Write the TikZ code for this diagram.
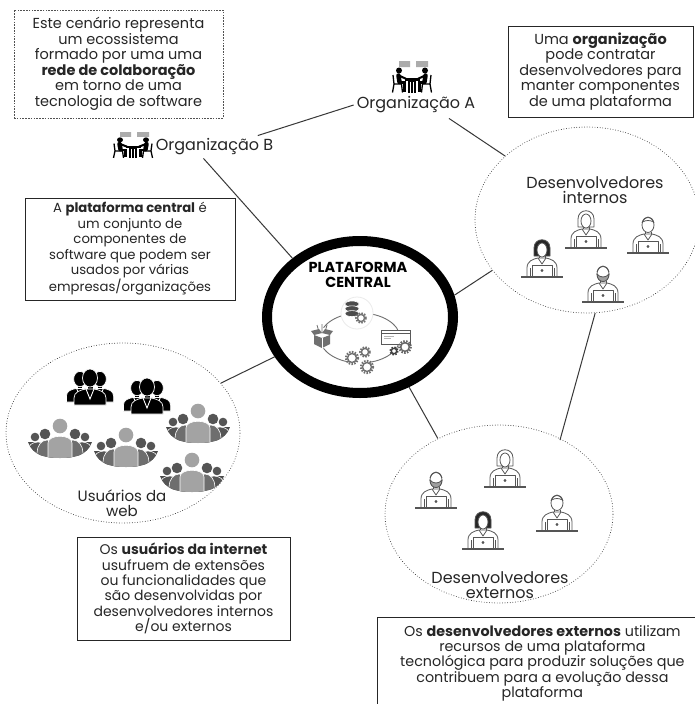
\documentclass[tikz,border=0pt]{standalone}
\usepackage{fontspec}
\setmainfont{Poppins}
\usetikzlibrary{shapes.geometric,calc}

\definecolor{ink}{HTML}{262626}
\definecolor{wire}{HTML}{383838}
\definecolor{devgrey}{HTML}{555555}
\definecolor{cone}{HTML}{A3A3A3}
\definecolor{ctwo}{HTML}{6E6E6E}
\definecolor{cthree}{HTML}{555555}
\definecolor{cfour}{HTML}{4A4A4A}
\definecolor{icong}{HTML}{707070}

% --- developer at a laptop (origin: middle of the desk line) ---
\newcommand\devtorso{%
  \draw[devline] (-15,0) -- (-15,-9) .. controls (-15,-16) and (-9,-18) .. (-4,-19)
        -- (4,-19) .. controls (9,-18) and (15,-16) .. (15,-9) -- (15,0);
  \draw[devline] (-4,-19) -- (0,-13) -- (4,-19);
  \draw[devline] (-3,-19) -- (-3,-21) (3,-19) -- (3,-21);
  \draw[devline] (-12,-1) -- (-12,-9) (12,-1) -- (12,-9);
  \filldraw[devline, fill=white] (-10,-12) rectangle (10,-1);
  \draw[devline] (0,-6.5) circle (1);
  \draw[line width=1.8pt, devgrey] (-21,0) -- (21,0);}
\newcommand\devface{\filldraw[devline, fill=white] (0,-28) ellipse (6 and 7.5);}
\newcommand\longhair[1]{%
  \filldraw[devline, fill=#1] (-8,-21) -- (-8,-29) .. controls (-8,-40) and (8,-40) .. (8,-29)
        -- (8,-21) -- cycle;
  \filldraw[devline, fill=white] (0,-27) ellipse (5 and 7);}

% --- business person silhouette (origin: bottom middle) ---
\newcommand\bizfigure{%
  \fill[black] (-2.5,-21) rectangle (2.5,-14);
  \filldraw[black, draw=white, line width=0.7pt] (0,-27) ellipse (7.5 and 9);
  \filldraw[black, draw=white, line width=0.7pt] (-16,0) -- (-16,-7) .. controls (-16,-13) and (-10,-15) .. (-4,-16)
        -- (4,-16) .. controls (10,-15) and (16,-13) .. (16,-7) -- (16,0) -- cycle;
  \draw[white, line width=0.9pt] (-4,-16) -- (0,-6) -- (4,-16);}

\tikzset{
  devline/.style={draw=devgrey, line width=0.8pt, line join=round},
  note/.style={draw=ink, line width=0.8pt, align=center, text=ink, inner sep=0pt},
  dashnote/.style={note, draw=ink!80, line width=0.6pt, dash pattern=on 1.6pt off 1.2pt},
  crowdring/.style={ellipse, draw=ink, line width=0.9pt, line cap=round,
    dash pattern=on 0pt off 2.6pt, inner sep=0pt},
  label/.style={text=ink, align=center, font=\fontsize{16}{15.5}\selectfont},
  link/.style={draw=wire, line width=1pt},
  pics/devman/.style={code={\devtorso\devface
     \draw[devline] (-6,-30) .. controls (-4,-38) and (4,-38) .. (6,-30);
     \draw[devline] (-5.5,-31) .. controls (-2,-33) and (2,-33) .. (5.5,-31);}},
  pics/devwoman/.style={code={\devtorso\longhair{white}}},
  pics/devwomandark/.style={code={\devtorso\longhair{black!85}}},
  pics/devbeard/.style={code={\devtorso\devface
     \filldraw[devline, fill=gray!75] (-6,-28) .. controls (-6,-18) and (6,-18) .. (6,-28)
        .. controls (3,-24) and (-3,-24) .. cycle;
     \draw[devline] (-6,-30) .. controls (-4,-38) and (4,-38) .. (6,-30);}},
  pics/biz/.style={code={
     \begin{scope}[shift={(-10,-3)},scale=0.85]\bizfigure\end{scope}
     \begin{scope}[shift={(10,-3)},scale=0.85]\bizfigure\end{scope}
     \bizfigure}},
  pics/crowd/.style={code={
     \begin{scope}
       \clip (-32,-60) -- (32,-60) -- (32,-16) .. controls (27,-2) and (13,0) .. (0,0)
             .. controls (-13,0) and (-27,-2) .. (-32,-16) -- cycle;
       \fill[cfour] (-32,-16) rectangle (32,2);
       \filldraw[cthree, draw=white, line width=0.6pt] (-22,-8) ellipse (10 and 8) (22,-8) ellipse (10 and 8);
       \filldraw[ctwo, draw=white, line width=0.6pt] (-13,-5) ellipse (10 and 13) (13,-5) ellipse (10 and 13);
       \filldraw[cone, draw=white, line width=0.6pt] (-12,2) -- (-12,-15) .. controls (-12,-24) and (12,-24) .. (12,-15) -- (12,2) -- cycle;
     \end{scope}
     \fill[cthree] (-25,-21) circle (4.3) (25,-21) circle (4.3);
     \fill[cthree] (-15,-24) circle (5.3) (15,-24) circle (5.3);
     \fill[cone] (0,-32) circle (7.3);}},
  pics/meeting/.style={code={
     \fill[gray!65] (-13,-17) rectangle (-2,-11) (4,-17) rectangle (16,-11);
     \fill[black] (-13,-7.5) circle (3) (13,-7.5) circle (3);
     \foreach \s in {-1,1}{
       \begin{scope}[xscale=\s]
         \draw[black, line width=4.5pt, line cap=round] (-13.5,-2.5) -- (-12.5,4);
         \draw[black, line width=2pt, line cap=round] (-12,-2) -- (-6,0.8);
         \draw[black, line width=2.2pt] (-12.5,4.5) -- (-7.5,4.5) -- (-7.5,13.5);
         \draw[black, line width=1.3pt] (-19,-3) -- (-18,6) -- (-10,6) (-18,6) -- (-19.5,14.5) (-10.5,6) -- (-9.5,14.5);
       \end{scope}}
     \fill[black] (-7.5,0) rectangle (7.5,2.5);
     \fill[black] (-4,2.5) rectangle (4,14.5);
     \draw[white, line width=0.5pt] (-1.3,3.5) -- (-1.3,14.5) (1.3,3.5) -- (1.3,14.5);}},
  pics/gear/.style={code={
     \draw[draw=#1, line width=2.2pt, dash pattern=on 1.5pt off 1.3pt] (0,0) circle (4.8);
     \filldraw[draw=#1, fill=white, line width=1.4pt] (0,0) circle (3.6);}},
  pics/gear/.default=icong
}

\begin{document}
\begin{tikzpicture}[x=1pt, y=-1pt]
\useasboundingbox[fill=white] (0,0) rectangle (694,704);

% ---------- explanatory notes ----------
\node[dashnote, minimum width=209pt, minimum height=108pt, font=\fontsize{14.5}{15.5}\selectfont] (scenario) at (118.5,64)
  {Este cenário representa\\um ecossistema\\formado por uma uma\\\textbf{rede de colaboração}\\em torno de uma\\tecnologia de software};
\node[note, minimum width=185pt, minimum height=91pt, font=\fontsize{14.5}{15.5}\selectfont] (hire) at (600.5,71.5)
  {Uma \textbf{organização}\\pode contratar\\desenvolvedores para\\manter componentes\\de uma plataforma};
\node[note, minimum width=210pt, minimum height=102pt, font=\fontsize{13.2}{15.5}\selectfont] (platnote) at (130,249)
  {A \textbf{plataforma central} é\\um conjunto de\\componentes de\\software que podem ser\\usados por várias\\empresas/organizações};
\node[note, minimum width=213pt, minimum height=103pt, font=\fontsize{14}{15.3}\selectfont] (usernote) at (183.5,588.5)
  {Os \textbf{usuários da internet}\\usufruem de extensões\\ou funcionalidades que\\são desenvolvidas por\\desenvolvedores internos\\e/ou externos};
\node[note, anchor=north west, minimum width=330pt, minimum height=92pt, font=\fontsize{14.3}{15.3}\selectfont] (extnote) at (377,617)
  {Os \textbf{desenvolvedores externos} utilizam\\recursos de uma plataforma\\tecnológica para produzir soluções que\\contribuem para a evolução dessa\\plataforma};

% ---------- organisations ----------
\pic at (412,78) {meeting};
\node[label, inner sep=3pt] (orgA) at (416,105) {Organização A};
\pic[yscale=0.82] at (133,146) {meeting};
\node[label, inner sep=3pt] (orgB) at (214.5,147) {Organização B};

% ---------- central platform ----------
\node[ellipse, draw=black, line width=10pt, minimum width=186pt, minimum height=152pt] (plat) at (360,317) {};
\node[text=black, align=center, font=\bfseries\fontsize{14.5}{15}\selectfont] (plattitle) at (358,275) {PLATAFORMA\\CENTRAL};
% small cycle of software components
\draw[icong, line width=0.9pt] (360,338) ellipse (40 and 25);
\filldraw[draw=black!8, fill=white, line width=0.8pt] (357,313) circle (16);
\foreach \k in {0,1,2}
  \filldraw[fill=black!70, draw=white, line width=0.6pt] (352,{304+\k*4.8}) ellipse (7 and 3);
\pic at (361,318) {gear=black!55};
\fill[white] (320,338) circle (11);
\fill[icong] (314,335) -- (322,338) -- (330,335) -- (330,344) -- (322,348) -- (314,344) -- cycle;
\draw[white, line width=0.6pt] (322,338) -- (322,348);
\fill[icong] (314,335) -- (311,331) -- (319,329) -- (322,333) -- cycle (330,335) -- (333,331) -- (325,329) -- (322,333) -- cycle;
\draw[icong, line width=0.8pt] (322,333) -- (322,324) (319,332) -- (317,325) (325,332) -- (327,325);
\filldraw[draw=black!65, fill=white, line width=0.9pt] (381,330) rectangle (410,344);
\draw[black!65, line width=0.7pt] (381,333) -- (410,333);
\draw[black!30, line width=0.6pt] (384,336) -- (394,336) (384,338.5) -- (391,338.5);
\pic[scale=1.2] at (405,347) {gear=black!60};
\pic[scale=0.75] at (394,351) {gear=black!75};
\fill[white] (360,362) circle (11);
\pic[scale=1.25] at (352,358) {gear};
\pic at (365,352) {gear};
\pic[scale=1.25] at (367,367) {gear};

% ---------- internal developers ----------
\node[crowdring, minimum width=224pt, minimum height=186pt] (devint) at (587,220) {};
\node[label] (devintlabel) at (595,190) {Desenvolvedores\\internos};
\pic at (542,277) {devwomandark};
\pic at (586,248) {devwoman};
\pic at (648,253) {devman};
\pic at (603,302) {devbeard};

% ---------- external developers ----------
\node[crowdring, minimum width=228pt, minimum height=178pt] (devext) at (499,514) {};
\node[label] (devextlabel) at (500,585) {Desenvolvedores\\externos};
\pic at (436,508) {devbeard};
\pic at (505,487) {devwoman};
\pic at (483,549) {devwomandark};
\pic at (557,531) {devman};

% ---------- web users ----------
\node[crowdring, minimum width=234pt, minimum height=180pt] (users) at (123,433) {};
\node[label, font=\fontsize{15}{15.5}\selectfont] (userslabel) at (122,503) {Usuários da\\web};
\pic at (90,405) {biz};
\pic at (147,414) {biz};
\pic at (60,458) {crowd};
\pic at (126,467) {crowd};
\pic at (198,443) {crowd};
\pic at (192,492) {crowd};

% ---------- connectors ----------
\draw[link] (orgA.west) -- ($(orgB.north)!0.7!(orgB.north east)$);
\draw[link] ($(orgA.south)+(33,2)$) -- (devint.142);
\draw[link] ($(orgB.south)+(-11,0)$) -- (plat.139);
\draw[link] (plat.13) -- (devint.208);
\draw[link] (devint.275) -- ($(devext.center)+(61,-74)$);
\draw[link] (plat.305) -- (devext.129);
\draw[link] (users.27) -- (plat.205);
\end{tikzpicture}
\end{document}
